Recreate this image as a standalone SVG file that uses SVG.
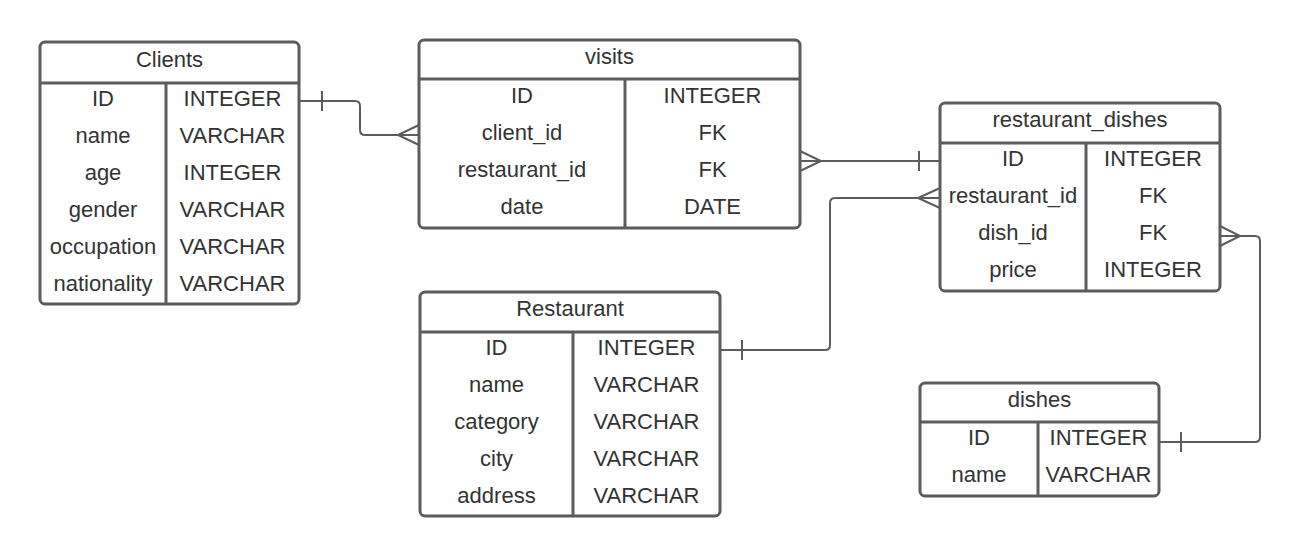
<svg xmlns="http://www.w3.org/2000/svg" width="1302" height="557" viewBox="0 0 1302 557">
<style>
.box{fill:#ffffff;stroke:#5c5c5c;stroke-width:3}
.div{stroke:#5c5c5c;stroke-width:3;fill:none}
.t{font-family:"Liberation Sans",Arial,sans-serif;font-size:22px;fill:#333333;text-anchor:middle}
.c{fill:none;stroke:#5c5c5c;stroke-width:2}
</style>
<rect width="1302" height="557" fill="#ffffff"/>
<g id="connectors">
<path class="c" d="M299,101 H355 Q360,101 360,106 V130 Q360,135 365,135 H419"/>
<path class="c" d="M322,91 V111"/>
<path class="c" d="M419,125 L398,135 L419,145"/>
<path class="c" d="M800,161 H940"/>
<path class="c" d="M800,151 L821,161 L800,171"/>
<path class="c" d="M919,151 V171"/>
<path class="c" d="M940,198 H835 Q830,198 830,203 V345 Q830,350 825,350 H720"/>
<path class="c" d="M940,188 L918,198 L940,208"/>
<path class="c" d="M742,340 V360"/>
<path class="c" d="M1220,236 H1255 Q1260,236 1260,241 V437 Q1260,442 1255,442 H1160"/>
<path class="c" d="M1220,226 L1240,236 L1220,246"/>
<path class="c" d="M1181,432 V452"/>
</g>
<g id="clients">
<rect class="box" x="40" y="42" width="259" height="262" rx="5"/>
<path class="div" d="M40,83 H299 M166,83 V304"/>
<text class="t" x="169.5" y="67">Clients</text>
<text class="t" x="103" y="106">ID</text><text class="t" x="232.5" y="106">INTEGER</text>
<text class="t" x="103" y="143">name</text><text class="t" x="232.5" y="143">VARCHAR</text>
<text class="t" x="103" y="180">age</text><text class="t" x="232.5" y="180">INTEGER</text>
<text class="t" x="103" y="217">gender</text><text class="t" x="232.5" y="217">VARCHAR</text>
<text class="t" x="103" y="254">occupation</text><text class="t" x="232.5" y="254">VARCHAR</text>
<text class="t" x="103" y="291">nationality</text><text class="t" x="232.5" y="291">VARCHAR</text>
</g>
<g id="visits">
<rect class="box" x="419" y="40" width="381" height="188" rx="5"/>
<path class="div" d="M419,79 H800 M625,79 V228"/>
<text class="t" x="609.5" y="64">visits</text>
<text class="t" x="522" y="103">ID</text><text class="t" x="712.5" y="103">INTEGER</text>
<text class="t" x="522" y="140">client_id</text><text class="t" x="712.5" y="140">FK</text>
<text class="t" x="522" y="177">restaurant_id</text><text class="t" x="712.5" y="177">FK</text>
<text class="t" x="522" y="214">date</text><text class="t" x="712.5" y="214">DATE</text>
</g>
<g id="restaurant_dishes">
<rect class="box" x="940" y="103" width="280" height="188" rx="5"/>
<path class="div" d="M940,143 H1220 M1086,143 V291"/>
<text class="t" x="1080" y="127">restaurant_dishes</text>
<text class="t" x="1013" y="166">ID</text><text class="t" x="1153" y="166">INTEGER</text>
<text class="t" x="1013" y="203">restaurant_id</text><text class="t" x="1153" y="203">FK</text>
<text class="t" x="1013" y="240">dish_id</text><text class="t" x="1153" y="240">FK</text>
<text class="t" x="1013" y="277">price</text><text class="t" x="1153" y="277">INTEGER</text>
</g>
<g id="restaurant">
<rect class="box" x="420" y="292" width="300" height="224" rx="5"/>
<path class="div" d="M420,332 H720 M573,332 V516"/>
<text class="t" x="570" y="316">Restaurant</text>
<text class="t" x="496.5" y="355">ID</text><text class="t" x="646.5" y="355">INTEGER</text>
<text class="t" x="496.5" y="392">name</text><text class="t" x="646.5" y="392">VARCHAR</text>
<text class="t" x="496.5" y="429">category</text><text class="t" x="646.5" y="429">VARCHAR</text>
<text class="t" x="496.5" y="466">city</text><text class="t" x="646.5" y="466">VARCHAR</text>
<text class="t" x="496.5" y="503">address</text><text class="t" x="646.5" y="503">VARCHAR</text>
</g>
<g id="dishes">
<rect class="box" x="920" y="383" width="239" height="113" rx="5"/>
<path class="div" d="M920,422 H1159 M1038,422 V496"/>
<text class="t" x="1039.5" y="407">dishes</text>
<text class="t" x="979" y="445">ID</text><text class="t" x="1098.5" y="445">INTEGER</text>
<text class="t" x="979" y="482">name</text><text class="t" x="1098.5" y="482">VARCHAR</text>
</g>
</svg>
